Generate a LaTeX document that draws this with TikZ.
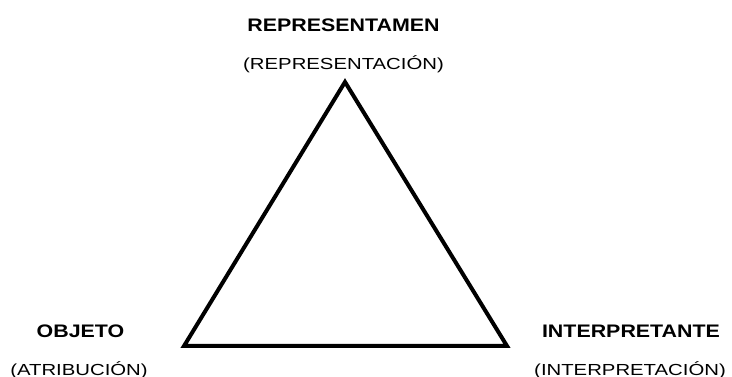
\documentclass[tikz,border=0pt]{standalone}
\usepackage{fontspec}
\setmainfont{Liberation Sans}
\usepackage{graphicx}
\usetikzlibrary{positioning}
\newcommand{\boldlabel}[1]{\scalebox{1.18}[1]{\fontsize{13.6}{16}\selectfont\bfseries #1}}
\newcommand{\sublabel}[1]{\scalebox{1.27}[1]{\fontsize{12}{14}\selectfont #1}}
\tikzset{
    x=0.75pt, y=-0.75pt, % one unit is one pixel of the reference
    side/.style={line width=3pt, line join=miter}, % sets the properties of the triangle
    every node/.style={inner sep=0pt, anchor=center},
}

\begin{document}
\begin{tikzpicture}
        \useasboundingbox (0,0) rectangle (732,377);
        % corners of the triangle
        \coordinate (REP) at (345,82);
        \coordinate (OBJ) at (184,346);
        \coordinate (INT) at (507,346);

        % labels
        \node (REP_name) at (343.5,25) {\boldlabel{REPRESENTAMEN}};
        \node (REP_sub) at (343.5,64) {\sublabel{(REPRESENTACIÓN)}};
        \node (OBJ_name) at (80.5,331) {\boldlabel{OBJETO}};
        \node (OBJ_sub) at (79,370) {\sublabel{(ATRIBUCIÓN)}};
        \node (INT_name) at (631,331) {\boldlabel{INTERPRETANTE}};
        \node (INT_sub) at (630,370) {\sublabel{(INTERPRETACIÓN)}};

        % draw the triangle
        \draw[side] (REP) -- (INT) -- (OBJ) -- cycle;
\end{tikzpicture}
\end{document}
